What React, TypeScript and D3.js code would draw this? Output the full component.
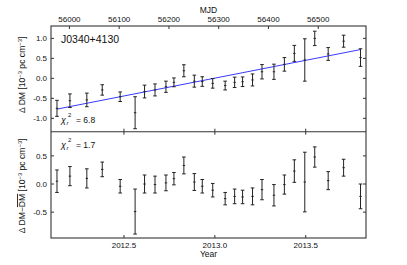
import React from "react";
import * as d3 from "d3";

const mjd = [55975, 56001, 56035, 56066, 56102, 56132, 56151, 56172, 56194, 56210, 56230, 56251, 56267, 56288, 56313, 56332, 56348, 56368, 56387, 56411, 56432, 56452, 56473, 56493, 56520, 56551, 56585];
const dm = [-0.75, -0.56, -0.54, -0.29, -0.46, -0.86, -0.33, -0.29, -0.21, -0.1, 0.19, -0.07, -0.08, -0.125, -0.18, -0.1, -0.085, -0.04, 0.165, 0.165, 0.35, 0.625, 0.46, 1.0, 0.61, 0.93, 0.52];
const err = [0.2, 0.17, 0.17, 0.13, 0.12, 0.4, 0.16, 0.15, 0.14, 0.11, 0.15, 0.15, 0.12, 0.12, 0.11, 0.13, 0.12, 0.15, 0.18, 0.19, 0.17, 0.2, 0.53, 0.18, 0.16, 0.15, 0.22];
const resid = [0.05, 0.14, 0.1, 0.26, -0.04, -0.49, 0.0, -0.01, 0.02, 0.095, 0.33, 0.035, -0.04, -0.11, -0.26, -0.22, -0.23, -0.22, -0.1, -0.2, -0.01, 0.23, 0.035, 0.48, 0.06, 0.29, -0.22];
const fitMjd = [55975, 56585];
const fitDm = [-0.77, 0.72];
const mjdTicks = [56000, 56100, 56200, 56300, 56400, 56500];
const yearTicks = [2012.5, 2013.0, 2013.5];
const upperTicks = [1.0, 0.5, 0.0, -0.5, -1.0];
const lowerTicks = [0.5, 0.0, -0.5];
const pulsar = "J0340+4130";
const chiUpper = "6.8";
const chiLower = "1.7";

const W = 407, H = 265;
const L = 51, R = 366, T = 26, MID = 131.7, B = 238;
const FONT = "'Liberation Sans', Arial, Helvetica, sans-serif";

const yearToMjd = (y: number) => 55927 + (y - 2012) * 365.25;

export default function App() {
  const x = d3.scaleLinear().domain([55963, 56596]).range([L, R]);
  const yU = d3.scaleLinear().domain([-1.335, 1.31]).range([MID, T]);
  const yL = d3.scaleLinear().domain([-0.96, 0.93]).range([B, MID]);
  const line = d3.line<number>().x((_, i) => x(fitMjd[i])).y((d) => yU(d));
  const cap = 1.8;
  const mark = 1.2;
  const ink = "#222";

  const errBars = (vals: number[], y: d3.ScaleLinear<number, number>) =>
    mjd.map((m, i) => {
      const cx = x(m);
      const y0 = y(vals[i] + err[i]);
      const y1 = y(vals[i] - err[i]);
      const yc = y(vals[i]);
      return (
        <g key={i} stroke={ink} strokeWidth={1}>
          <line x1={cx} x2={cx} y1={y0} y2={y1} />
          <line x1={cx - cap} x2={cx + cap} y1={y0} y2={y0} />
          <line x1={cx - cap} x2={cx + cap} y1={y1} y2={y1} />
          <line x1={cx - mark} x2={cx + mark} y1={yc} y2={yc} />
        </g>
      );
    });

  const tl = 3;
  return (
    <svg width={W} height={H} style={{ position: "absolute", left: 0, top: 0, background: "#fff" }} fontFamily={FONT}>
      <rect x={L} y={T} width={R - L} height={B - T} fill="none" stroke="#333" strokeWidth={1.1} />
      <line x1={L} x2={R} y1={MID} y2={MID} stroke="#333" strokeWidth={1.1} />

      {mjdTicks.map((t) => (
        <g key={t}>
          <line x1={x(t)} x2={x(t)} y1={T} y2={T + tl} stroke="#333" />
          <text x={x(t)} y={22} fontSize={8} textAnchor="middle" fill="#111">{t}</text>
        </g>
      ))}
      <text x={(L + R) / 2} y={13} fontSize={8.5} textAnchor="middle" fill="#111">MJD</text>

      {yearTicks.map((t) => (
        <g key={t}>
          <line x1={x(yearToMjd(t))} x2={x(yearToMjd(t))} y1={B} y2={B - tl} stroke="#333" />
          <line x1={x(yearToMjd(t))} x2={x(yearToMjd(t))} y1={MID} y2={MID + tl} stroke="#333" />
          <line x1={x(yearToMjd(t))} x2={x(yearToMjd(t))} y1={MID} y2={MID - tl} stroke="#333" />
          <text x={x(yearToMjd(t))} y={248} fontSize={8} textAnchor="middle" fill="#111">{t.toFixed(1)}</text>
        </g>
      ))}
      <text x={(L + R) / 2} y={257} fontSize={8.5} textAnchor="middle" fill="#111">Year</text>

      {upperTicks.map((t) => (
        <g key={t}>
          <line x1={L} x2={L + tl} y1={yU(t)} y2={yU(t)} stroke="#333" />
          <line x1={R} x2={R - tl} y1={yU(t)} y2={yU(t)} stroke="#333" />
          <text x={47} y={yU(t) + 3} fontSize={8} textAnchor="end" fill="#111">{t.toFixed(1)}</text>
        </g>
      ))}
      {lowerTicks.map((t) => (
        <g key={t}>
          <line x1={L} x2={L + tl} y1={yL(t)} y2={yL(t)} stroke="#333" />
          <line x1={R} x2={R - tl} y1={yL(t)} y2={yL(t)} stroke="#333" />
          <text x={47} y={yL(t) + 3} fontSize={8} textAnchor="end" fill="#111">{t.toFixed(1)}</text>
        </g>
      ))}

      <text transform={`translate(25,${(T + MID) / 2 - 4}) rotate(-90)`} fontSize={8.6} textAnchor="middle" fill="#111">
        Δ DM [10<tspan dy={-3} fontSize={5.8}>−3</tspan><tspan dy={3}> pc cm</tspan><tspan dy={-3} fontSize={5.8}>−3</tspan><tspan dy={3}>]</tspan>
      </text>
      <text transform={`translate(25,${(MID + B) / 2 + 1}) rotate(-90)`} fontSize={8.6} textAnchor="middle" fill="#111">
        Δ DM−<tspan textDecoration="overline">DM</tspan> [10<tspan dy={-3} fontSize={5.8}>−3</tspan><tspan dy={3}> pc cm</tspan><tspan dy={-3} fontSize={5.8}>−3</tspan><tspan dy={3}>]</tspan>
      </text>

      <path d={line(fitDm) || ""} fill="none" stroke="#3a3aff" strokeWidth={1} />

      {errBars(dm, yU)}
      {errBars(resid, yL)}

      <text x={61} y={43} fontSize={10.5} fill="#111">{pulsar}</text>
      <g fill="#111">
        <text x={61} y={123} fontSize={9} fontStyle="italic">χ</text>
        <text x={66.5} y={125} fontSize={6} fontStyle="italic">r</text>
        <text x={68} y={117} fontSize={6}>2</text>
        <text x={76} y={123} fontSize={8.5}>= {chiUpper}</text>
        <text x={61} y={148} fontSize={9} fontStyle="italic">χ</text>
        <text x={66.5} y={150} fontSize={6} fontStyle="italic">r</text>
        <text x={68} y={142} fontSize={6}>2</text>
        <text x={76} y={148} fontSize={8.5}>= {chiLower}</text>
      </g>
    </svg>
  );
}
